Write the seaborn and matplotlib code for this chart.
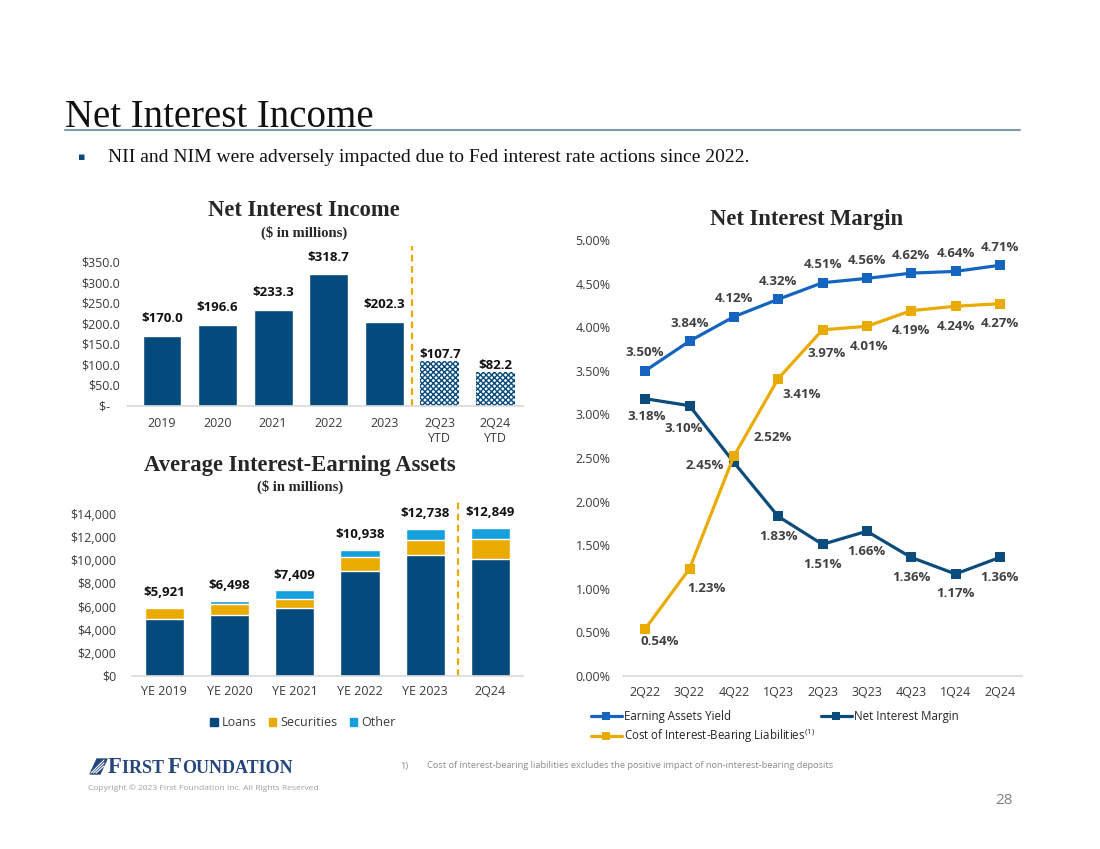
import matplotlib
matplotlib.use("Agg")
import matplotlib.pyplot as plt
from matplotlib.lines import Line2D
from matplotlib.patches import Patch, Polygon
import seaborn as sns
import pandas as pd

# Net Interest Income ($ in millions)
nii_periods = ["2019", "2020", "2021", "2022", "2023", "2Q23\nYTD", "2Q24\nYTD"]
nii_values = [170.0, 196.6, 233.3, 318.7, 202.3, 107.7, 82.2]

# Average Interest-Earning Assets ($ in millions)
aiea_periods = ["YE 2019", "YE 2020", "YE 2021", "YE 2022", "YE 2023", "2Q24"]
aiea_loans = [4960, 5300, 5850, 9100, 10450, 10080]
aiea_securities = [890, 900, 800, 1200, 1300, 1800]
aiea_other = [71, 298, 759, 638, 988, 969]
aiea_totals = [5921, 6498, 7409, 10938, 12738, 12849]

# Net Interest Margin (%)
nim_quarters = ["2Q22", "3Q22", "4Q22", "1Q23", "2Q23", "3Q23", "4Q23", "1Q24", "2Q24"]
earning_assets_yield = [3.50, 3.84, 4.12, 4.32, 4.51, 4.56, 4.62, 4.64, 4.71]
cost_ibl = [0.54, 1.23, 2.52, 3.41, 3.97, 4.01, 4.19, 4.24, 4.27]
net_interest_margin = [3.18, 3.10, 2.45, 1.83, 1.51, 1.66, 1.36, 1.17, 1.36]

NAVY = "#044A7C"
GOLD = "#EAAB00"
LIGHT_BLUE = "#14A0DC"
YIELD_BLUE = "#1565C0"
NIM_NAVY = "#0B4C7C"
LABEL_GRAY = "#404040"
TICK_GRAY = "#3A3A3A"
AXIS_GRAY = "#D9D9D9"
SERIF = "Liberation Serif"

sns.set_theme(style="white")
plt.rcParams["font.family"] = ["Open Sans", "DejaVu Sans"]
plt.rcParams["mathtext.fontset"] = "custom"
plt.rcParams["mathtext.rm"] = "Open Sans"
plt.rcParams["mathtext.it"] = "Open Sans"
plt.rcParams["hatch.linewidth"] = 1.0

W, H = 1100, 849
fig = plt.figure(figsize=(11, 8.49), dpi=100)


def fx(px):
    return px / W


def fy(py):
    return 1 - py / H


def style_axes(ax):
    sns.despine(ax=ax, left=True)
    ax.spines["bottom"].set_color(AXIS_GRAY)
    ax.spines["bottom"].set_linewidth(1.2)
    ax.set_xlabel("")
    ax.set_ylabel("")
    ax.grid(False)


# ---- slide header
fig.text(fx(65), fy(127), "Net Interest Income", family=SERIF, size=28, va="baseline", color="#111111")
fig.add_artist(Line2D([fx(65), fx(1020)], [fy(130), fy(130)], color="#7F9AB0", lw=1.5))
fig.text(fx(78), fy(158), "\u25aa", size=8, color=NAVY, va="center")
fig.text(fx(108), fy(158), "NII and NIM were adversely impacted due to Fed interest rate actions since 2022.",
         family=SERIF, size=14, va="center", color="#111111")

# ---- Net Interest Income bars
ax1 = fig.add_axes([fx(127), fy(405.5), fx(523 - 127), (405.5 - 261.5) / H])
df_nii = pd.DataFrame({"period": nii_periods, "value": nii_values})
sns.barplot(data=df_nii, x="period", y="value", color=NAVY, saturation=1, width=0.7, ax=ax1)
for p in ax1.patches[5:]:
    p.set_facecolor("white")
    p.set_hatch("xxxxxx")
    p.set_edgecolor(NAVY)
    p.set_linewidth(0)
ax1.set_ylim(0, 350)
ax1.set_xlim(-0.63, 6.5)
ax1.set_yticks(range(0, 351, 50))
ax1.set_yticklabels(["$-   "] + [f"${v:.1f}" for v in range(50, 351, 50)])
ax1.tick_params(axis="both", length=0, labelsize=9, colors=TICK_GRAY)
ax1.tick_params(axis="y", pad=5)
ax1.tick_params(axis="x", pad=8)
for i, v in enumerate(nii_values):
    off = 4.5 if i >= 5 else 12.5
    ax1.annotate(f"${v:.1f}", (i, v), xytext=(0, off), textcoords="offset points",
                 ha="center", va="center", fontsize=9.5, fontweight="bold", color="#111111")
ax1.axvline(4.5, ymin=0, ymax=1.11, color=GOLD, lw=1.6, ls=(0, (3, 2)), clip_on=False)
style_axes(ax1)
fig.text(fx(304), fy(211), "Net Interest Income", family=SERIF, weight="bold", size=16.3, ha="center", va="center")
fig.text(fx(304), fy(233), "($ in millions)", family=SERIF, weight="bold", size=10.5, ha="center", va="center")

# ---- Average Interest-Earning Assets stacked bars
ax2 = fig.add_axes([fx(131.7), fy(675.7), fx(523 - 131.7), 161.4 / H])
stack_top = [l + s + o for l, s, o in zip(aiea_loans, aiea_securities, aiea_other)]
stack_mid = [l + s for l, s in zip(aiea_loans, aiea_securities)]
for vals, col in [(stack_top, LIGHT_BLUE), (stack_mid, GOLD), (aiea_loans, NAVY)]:
    sns.barplot(x=aiea_periods, y=vals, color=col, saturation=1, width=0.6,
                edgecolor="white", linewidth=1, ax=ax2)
ax2.set_ylim(0, 14000)
ax2.set_xlim(-0.5, 5.5)
ax2.set_yticks(range(0, 14001, 2000))
ax2.set_yticklabels([f"${v:,.0f}" for v in range(0, 14001, 2000)])
ax2.tick_params(axis="both", length=0, labelsize=9, colors=TICK_GRAY)
ax2.tick_params(axis="y", pad=11)
ax2.tick_params(axis="x", pad=7)
for i, v in enumerate(aiea_totals):
    ax2.annotate(f"${v:,.0f}", (i, v), xytext=(0, 11), textcoords="offset points",
                 ha="center", va="center", fontsize=9.5, fontweight="bold", color="#111111")
ax2.axvline(4.5, ymin=0, ymax=1.085, color=GOLD, lw=1.6, ls=(0, (3, 2)), clip_on=False)
style_axes(ax2)
ax2.legend(handles=[Patch(color=NAVY, label="Loans"), Patch(color=GOLD, label="Securities"),
                    Patch(color=LIGHT_BLUE, label="Other")],
           loc="center", bbox_to_anchor=(0.437, -0.293), ncol=3, frameon=False, fontsize=9,
           handlelength=0.6, handleheight=0.6, handletextpad=0.3, columnspacing=1.0,
           labelcolor=TICK_GRAY)
fig.text(fx(300), fy(465), "Average Interest-Earning Assets", family=SERIF, weight="bold", size=16.3,
         ha="center", va="center")
fig.text(fx(300), fy(487), "($ in millions)", family=SERIF, weight="bold", size=10.5, ha="center", va="center")

# ---- Net Interest Margin lines
ax3 = fig.add_axes([fx(623), fy(676), fx(399), 436 / H])
series = [
    (earning_assets_yield, YIELD_BLUE, "Earning Assets Yield"),
    (net_interest_margin, NIM_NAVY, "Net Interest Margin"),
    (cost_ibl, GOLD, "Cost of Interest-Bearing Liabilities$^{(1)}$"),
]
for vals, col, lab in series:
    sns.lineplot(x=nim_quarters, y=vals, color=col, marker="s", markersize=6.5, markeredgewidth=0,
                 linewidth=2.3, ax=ax3, legend=False, sort=False)
ax3.set_ylim(0, 5)
ax3.set_xlim(-0.5, 8.5)
ax3.set_yticks([v / 2 for v in range(11)])
ax3.set_yticklabels([f"{v / 2:.2f}%" for v in range(11)])
ax3.tick_params(axis="both", length=0, labelsize=9, colors=TICK_GRAY)
ax3.tick_params(axis="y", pad=9)
ax3.tick_params(axis="x", pad=7)
style_axes(ax3)

# label offsets in pixels (dx, dy)
eay_off = [(0, 18)] * 9
cibl_off = [(15, -13), (17, -20), (39, 19), (24, -16), (4, -24), (2, -20), (0, -20), (0, -20), (0, -20)]
nim_off = [(2, -18), (-6, -23), (-29, -3), (0, -20), (0, -20), (0, -20), (0, -20), (0, -20), (0, -20)]
for vals, offs in [(earning_assets_yield, eay_off), (cost_ibl, cibl_off), (net_interest_margin, nim_off)]:
    for i, (v, (dx, dy)) in enumerate(zip(vals, offs)):
        ax3.annotate(f"{v:.2f}%", (i, v), xytext=(dx * 0.72, dy * 0.72), textcoords="offset points",
                     ha="center", va="center", fontsize=9.5, fontweight="bold", color=LABEL_GRAY)
fig.text(fx(807), fy(220), "Net Interest Margin", family=SERIF, weight="bold", size=16.3, ha="center", va="center")

handles = [Line2D([], [], color=c, marker="s", markersize=5.5, markeredgewidth=0, lw=2.3, label=l)
           for _, c, l in [series[0], series[2], series[1]]]
fig.legend(handles=handles, loc="upper left", bbox_to_anchor=(fx(586), fy(705)), ncol=2, frameon=False,
           fontsize=8.3, handlelength=2.7, handletextpad=0.2, columnspacing=0.5, labelspacing=0.35,
           labelcolor="#262626", borderaxespad=0)

# ---- footer
logo_navy = "#24467C"
fig.add_artist(Polygon([[fx(90), fy(774)], [fx(97), fy(759)], [fx(107), fy(759)], [fx(100), fy(774)]],
                       closed=True, color=logo_navy))
for k in range(3):
    fig.add_artist(Line2D([fx(91 + 2.5 * k), fx(104)], [fy(773), fy(760 + 3 * k)], color="white", lw=0.8))
x = 108
renderer = fig.canvas.get_renderer()
for piece, sz in [("F", 16.5), ("IRST ", 13), ("F", 16.5), ("OUNDATION", 13)]:
    t = fig.text(fx(x), fy(773), piece, family=SERIF, weight="bold", size=sz, color=logo_navy, va="baseline")
    x += t.get_window_extent(renderer).width
fig.text(fx(88), fy(788), "Copyright \u00a9 2023 First Foundation Inc. All Rights Reserved", size=6.1,
         color="#A0A0A0", va="center")
fig.text(fx(400), fy(766), "1)", size=6.7, color="#8C8C8C", va="center")
fig.text(fx(427), fy(766),
         "Cost of interest-bearing liabilities excludes the positive impact of non-interest-bearing deposits",
         size=6.7, color="#8C8C8C", va="center")
fig.text(fx(1013), fy(800), "28", size=11, color="#7F7F7F", ha="right", va="center")

fig.savefig("out.png", dpi=100)
